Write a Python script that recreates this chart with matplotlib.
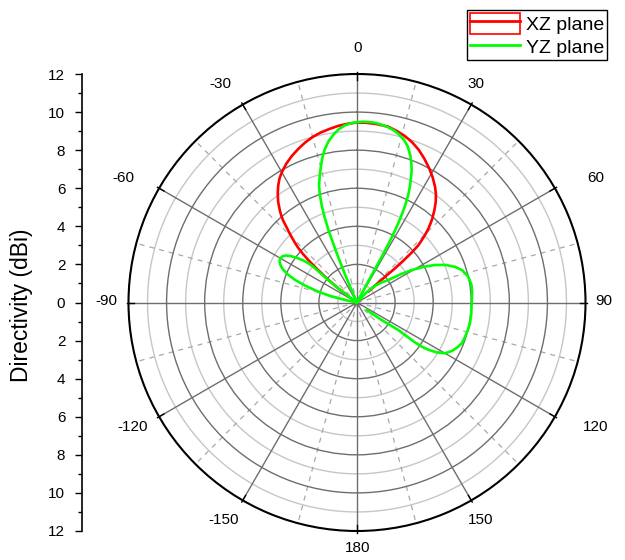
import numpy as np
import matplotlib
matplotlib.use("Agg")
import matplotlib.pyplot as plt
from matplotlib.patches import Patch
from matplotlib.lines import Line2D

plt.rcParams["font.family"] = ["Liberation Sans", "DejaVu Sans"]

# XZ plane (red) - angle in degrees (0 = up, clockwise), directivity in dBi
xz_theta = [-54, -53, -52, -51, -50, -49, -48, -47, -46, -45, -44, -43, -42, -41,
            -40, -38, -36, -34, -32, -30, -27, -24, -21, -18, -15, -12, -9, -6, -3,
            0, 3, 6, 10, 13, 16, 19, 22, 25, 28, 31, 34, 36, 38, 40, 42, 43, 44,
            45, 46, 47, 47.6, 48, 48, 47.5, 47, 46.3]
xz_dbi = [0.67, 1.2, 1.7, 2.2, 2.75, 3.35, 3.85, 4.25, 4.55, 4.85, 5.15, 5.45, 5.8,
          6.07, 6.3, 6.73, 7.08, 7.4, 7.68, 7.9, 8.18, 8.42, 8.63, 8.83, 9.0, 9.13,
          9.23, 9.33, 9.4, 9.45, 9.45, 9.43, 9.38, 9.25, 9.1, 8.9, 8.65, 8.35, 8.03,
          7.7, 7.33, 7.05, 6.72, 6.32, 5.9, 5.65, 5.4, 5.1, 4.75, 4.4, 3.9, 3.2,
          2.6, 2.0, 1.4, 0.82]

# YZ plane (green): left side lobe, main lobe, right side lobe
yz_theta = [-80, -79, -78, -76.5, -74.4, -72, -70, -68, -66, -64, -62, -60, -58,
            -56.5, -55, -53.5, -52, -51, -50.8, -51.2, -51.8, -52.5, -53.3, -54, -55,
            -24, -23.5, -23, -22.5, -22, -21.5, -20.8, -20, -19, -18, -16.5, -15,
            -13.5, -12, -10, -8, -6, -4, -2, 0, 2, 4, 6, 8, 10, 12, 14, 16, 18, 20,
            21.5, 22.5, 23.5, 24.5, 25.5, 26.3, 27, 27.5, 28, 28.3, 28.4, 28.3, 28,
            27.5, 27,
            41, 43, 46, 50, 54.3, 57, 59.3, 62, 64.3, 67, 70, 73, 77, 81, 85, 88.7,
            92, 96, 100.4, 104, 108, 111.3, 114, 117, 120, 122, 123.5, 124.3, 124.5,
            124.2, 123.7, 124.5, 125.5, 126.5, 127.7]
yz_dbi = [0, 0.3, 0.64, 1.4, 2.11, 2.85, 3.46, 3.9, 4.25, 4.47, 4.6, 4.65, 4.6,
          4.47, 4.25, 3.95, 3.6, 3.25, 2.9, 2.5, 2.0, 1.5, 1.0, 0.5, 0,
          0, 0.9, 1.7, 2.5, 3.3, 4.1, 4.8, 5.4, 6.0, 6.45, 6.9, 7.35, 7.8, 8.2,
          8.6, 8.9, 9.15, 9.32, 9.42, 9.47, 9.5, 9.5, 9.48, 9.42, 9.35, 9.25, 9.1,
          8.9, 8.62, 8.2, 7.8, 7.5, 7.1, 6.7, 6.25, 5.75, 5.2, 4.7, 4.0, 3.3, 2.7,
          2.0, 1.3, 0.6, 0,
          0, 0.7, 1.15, 1.6, 2.02, 2.7, 3.34, 4.0, 4.54, 5.05, 5.48, 5.78, 6.0,
          6.08, 6.07, 6.03, 6.02, 6.03, 6.03, 6.0, 5.95, 5.9, 5.78, 5.6, 5.34,
          4.95, 4.5, 4.11, 3.6, 3.1, 2.6, 2.0, 1.5, 1.0, 0.64]

r_max = 12
angle_ticks = [0, 30, 60, 90, 120, 150, 180, -150, -120, -90, -60, -30]
angle_label_px = [(358, 48), (476, 84), (596, 178), (604, 301), (596, 427), (481, 520),
                  (358, 548), (224, 520), (133, 427), (106, 301), (123, 178), (220, 84)]

W, H = 625, 560
fig = plt.figure(figsize=(W / 100, H / 100), dpi=100)

cx, cy, rad = 357, 302.5, 228.5
ax = fig.add_axes([(cx - rad) / W, (H - cy - rad) / H, 2 * rad / W, 2 * rad / H],
                  projection="polar")
ax.set_theta_zero_location("N")
ax.set_theta_direction(-1)
ax.set_ylim(0, r_max)

# grid: dark circles on even, light on odd, solid spokes every 30, dashed every 15
ax.set_rgrids(np.arange(2, r_max, 2), labels=[])
ax.set_thetagrids(np.arange(0, 360, 30), labels=[])
ax.grid(True, color="#6e6e6e", lw=1.0)
full = np.linspace(0, 2 * np.pi, 361)
for rr in range(1, r_max, 2):
    ax.plot(full, np.full_like(full, rr), color="#c6c6c6", lw=1.0, zorder=1)
for a in range(15, 360, 30):
    ax.plot([np.radians(a)] * 2, [0, r_max], color="#a8a8a8", lw=0.9,
            ls=(0, (4, 4)), zorder=1)
for a in range(0, 360, 30):
    ax.plot([np.radians(a)] * 2, [11.7, 12.1], color="black", lw=1.0,
            clip_on=False, zorder=2)
ax.spines["polar"].set_color("black")
ax.spines["polar"].set_linewidth(1.5)
ax.tick_params(axis="x", length=0)

ax.plot(np.radians(xz_theta), xz_dbi, color="#ff0000", lw=1.9, zorder=3,
        solid_joinstyle="round", solid_capstyle="round")
ax.plot(np.radians(yz_theta), yz_dbi, color="#00ff00", lw=1.9, zorder=4,
        solid_joinstyle="round", solid_capstyle="round")

for lab, (px, py) in zip(angle_ticks, angle_label_px):
    fig.text(px / W, 1 - py / H, str(lab), ha="center", va="center", fontsize=11)

# left radial scale
ax2 = fig.add_axes([82 / W, (H - cy - rad) / H, 0.0001, 2 * rad / H])
ax2.set_ylim(-r_max, r_max)
ticks = np.arange(-r_max, r_max + 1, 2)
ax2.set_yticks(ticks)
ax2.set_yticklabels([str(abs(t)) for t in ticks])
ax2.set_yticks(np.arange(-r_max + 1, r_max, 2), minor=True)
ax2.tick_params(axis="y", which="major", length=5, width=1, labelsize=11, pad=7)
ax2.tick_params(axis="y", which="minor", length=3, width=1)
ax2.set_xticks([])
for s in ["top", "right", "bottom"]:
    ax2.spines[s].set_visible(False)
ax2.spines["left"].set_linewidth(1.2)
ax2.patch.set_alpha(0)
fig.text(22 / W, 1 - 305 / H, "Directivity (dBi)", rotation=90, ha="center",
         va="center", fontsize=16.5)

handles = [(Patch(facecolor="none", edgecolor="#ff0000", lw=1.2),
            Line2D([], [], color="#ff0000", lw=2)),
           Line2D([], [], color="#00ff00", lw=2)]
leg = fig.legend(handles, ["XZ plane", "YZ plane"], loc="upper left",
                 bbox_to_anchor=(467 / W, 1 - 10 / H), borderaxespad=0,
                 fontsize=14, handlelength=2.6, handleheight=1.3,
                 labelspacing=0.1, handletextpad=0.3, borderpad=0.15,
                 fancybox=False, edgecolor="black", framealpha=1)
leg.get_frame().set_linewidth(1.0)

fig.savefig("out.png", dpi=100)
